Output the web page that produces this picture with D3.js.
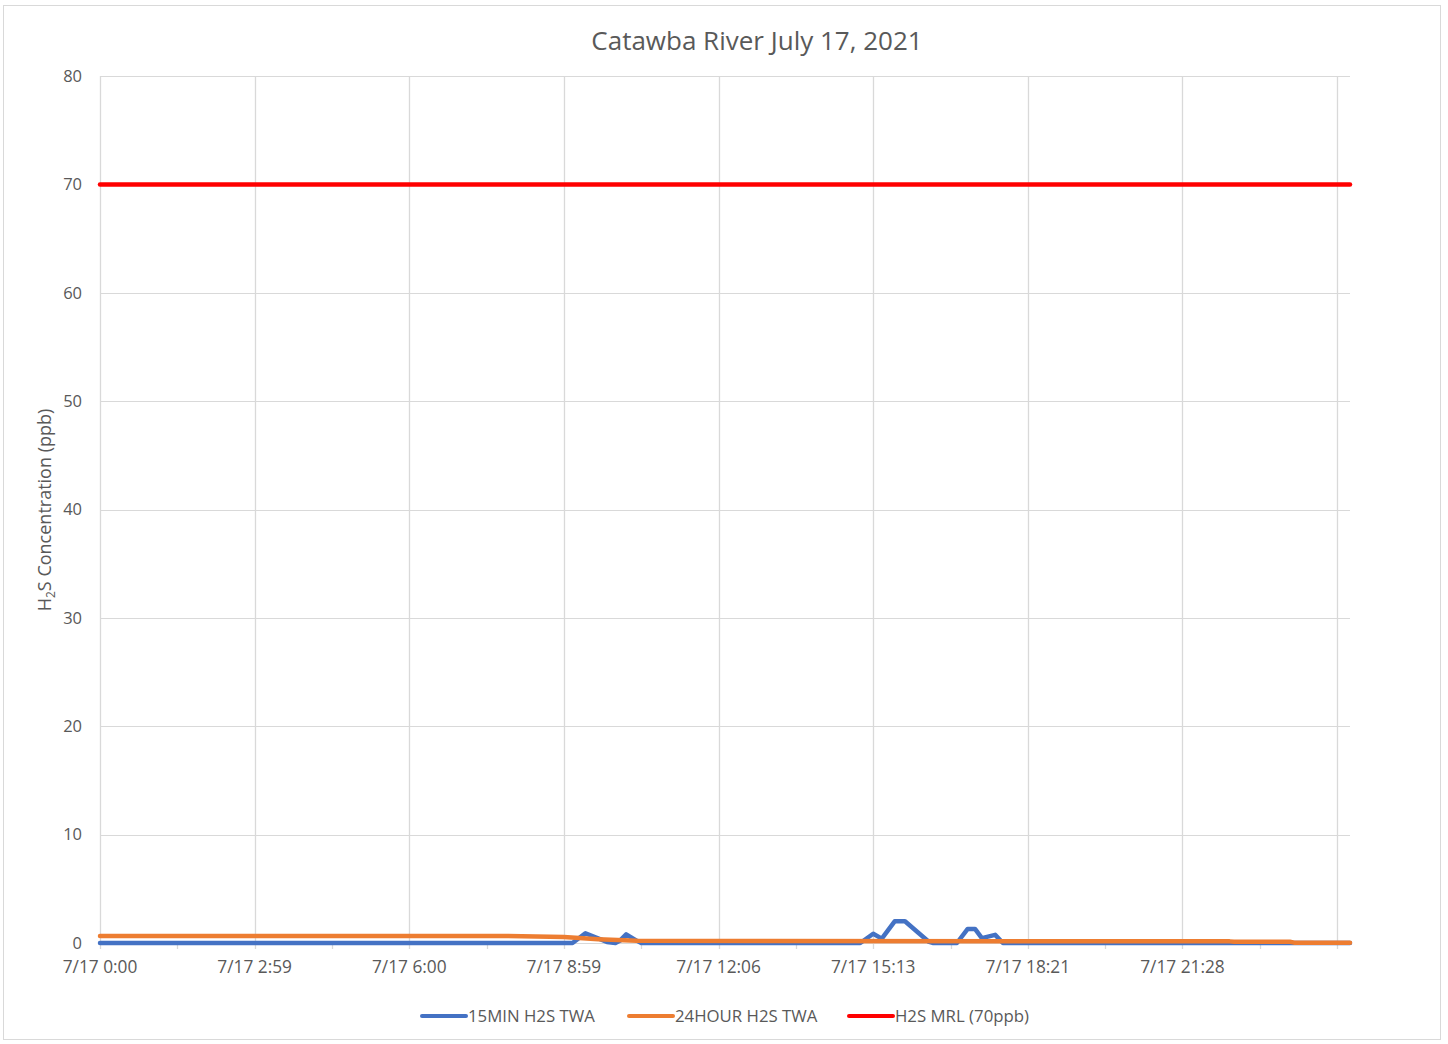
<!DOCTYPE html>
<html>
<head>
<meta charset="utf-8">
<script src="https://cdn.jsdelivr.net/npm/d3@7"></script>
<style>
  html, body { margin: 0; padding: 0; background: #fff; }
  svg { display: block; }
  text { font-family: "Open Sans", "Liberation Sans", sans-serif; fill: #595959; }
</style>
</head>
<body>
<svg id="chart" width="1448" height="1044"></svg>
<script>
// ---- data (x = sample index on the category axis, 5-minute samples) ----
const title = "Catawba River July 17, 2021";
const tickLabels = ["7/17 0:00", "7/17 2:59", "7/17 6:00", "7/17 8:59", "7/17 12:06", "7/17 15:13", "7/17 18:21", "7/17 21:28", ""];
const tickIndex = [0, 36, 72, 108, 144, 180, 216, 252, 288];
const lastIndex = 291;
const yTicks = [0, 10, 20, 30, 40, 50, 60, 70, 80];
const seriesNames = ["15MIN H2S TWA", "24HOUR H2S TWA", "H2S MRL (70ppb)"];
const seriesColors = ["#4472c4", "#ed7d31", "#ff0000"];
const min15 = [[0,0],[110,0],[113,0.9],[118,0.1],[120,0],[121,0.2],[122.5,0.8],[125,0.2],[126,0],
               [177,0],[180,0.85],[182,0.4],[185,2.0],[187.4,2.0],[193,0.1],[194,0],
               [199.5,0],[202,1.3],[203.7,1.3],[205.3,0.45],[208.4,0.75],[210.2,0],[291,0]];
const hour24 = [[0,0.65],[94,0.65],[108,0.55],[116,0.35],[125,0.2],[263,0.15],[264,0.12],[277,0.12],[278,0.03],[291,0.03]];
const mrl = [[0,70],[291,70]];

const svg = d3.select("#chart");
const L = 100, R = 1350, T = 76, B = 943;
const x = d3.scaleLinear().domain([0, lastIndex]).range([L, R]);
const y = d3.scaleLinear().domain([0, 80]).range([B, T]);
const grid = "#d9d9d9";

// chart border
svg.append("rect").attr("x", 3.5).attr("y", 5.5).attr("width", 1437).attr("height", 1034)
  .attr("fill", "#fff").attr("stroke", grid).attr("stroke-width", 1);

// horizontal gridlines
svg.append("g").selectAll("line").data(yTicks).join("line")
  .attr("x1", L).attr("x2", R).attr("y1", d => Math.round(y(d)) + 0.5).attr("y2", d => Math.round(y(d)) + 0.5)
  .attr("stroke", grid).attr("stroke-width", 1);

// vertical gridlines (extend as ticks)
svg.append("g").selectAll("line").data(tickIndex).join("line")
  .attr("x1", d => Math.round(x(d)) + 0.5).attr("x2", d => Math.round(x(d)) + 0.5)
  .attr("y1", T).attr("y2", B + 6)
  .attr("stroke", grid).attr("stroke-width", 1.3);
// minor ticks
const minor = tickIndex.slice(0, -1).map(d => d + 18);
svg.append("g").selectAll("line").data(minor).join("line")
  .attr("x1", d => Math.round(x(d)) + 0.5).attr("x2", d => Math.round(x(d)) + 0.5)
  .attr("y1", B).attr("y2", B + 6)
  .attr("stroke", grid).attr("stroke-width", 1.3);

// y tick labels
svg.append("g").selectAll("text").data(yTicks).join("text")
  .attr("x", 82).attr("y", d => y(d)).attr("dy", "0.35em").attr("text-anchor", "end")
  .attr("font-size", 16.5).text(d => d);

// x tick labels
svg.append("g").selectAll("text").data(tickIndex).join("text")
  .attr("x", d => x(d)).attr("y", 967).attr("dy", "0.35em").attr("text-anchor", "middle")
  .attr("font-size", 17.3).text((d, i) => tickLabels[i]);

// title
svg.append("text").attr("x", 757).attr("y", 41).attr("dy", "0.35em").attr("text-anchor", "middle")
  .attr("font-size", 26).text(title);

// y-axis title
const yt = svg.append("text").attr("transform", "translate(51,510) rotate(-90)")
  .attr("text-anchor", "middle").attr("font-size", 18);
yt.append("tspan").text("H");
yt.append("tspan").attr("font-size", 12).attr("dy", 4).text("2");
yt.append("tspan").attr("dy", -4).text("S Concentration (ppb)");

// lines
const line = d3.line().x(d => x(d[0])).y(d => y(d[1]));
const series = [min15, hour24, mrl];
const widths = [4.5, 4.5, 4.5];
series.forEach((s, i) => {
  svg.append("path").datum(s).attr("d", line).attr("fill", "none")
    .attr("stroke", seriesColors[i]).attr("stroke-width", widths[i])
    .attr("stroke-linejoin", "round").attr("stroke-linecap", "round");
});

// legend
const legX = [422, 629, 849];
const lg = svg.append("g");
seriesNames.forEach((n, i) => {
  lg.append("line").attr("x1", legX[i]).attr("x2", legX[i] + 44).attr("y1", 1016).attr("y2", 1016)
    .attr("stroke", seriesColors[i]).attr("stroke-width", 4).attr("stroke-linecap", "round");
  lg.append("text").attr("x", legX[i] + 46).attr("y", 1016).attr("dy", "0.35em")
    .attr("font-size", 16.8).text(n);
});
</script>
</body>
</html>
